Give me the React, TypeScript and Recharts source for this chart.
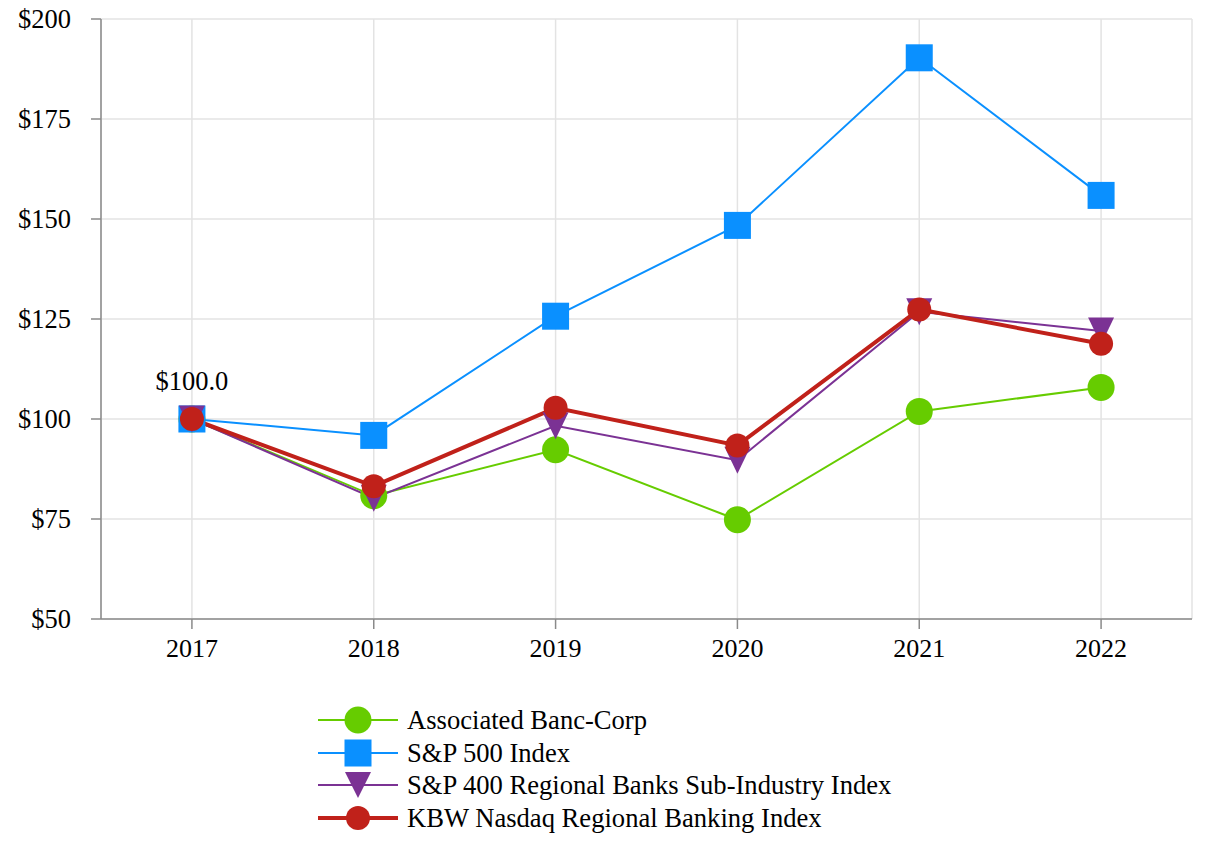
import React from 'react';
import { LineChart, Line, XAxis, YAxis, CartesianGrid, Legend } from 'recharts';

const years = ['2017', '2018', '2019', '2020', '2021', '2022'];
const associated = [100, 80.8, 92.3, 74.8, 101.9, 107.9];
const sp500 = [100, 95.9, 125.7, 148.4, 190.3, 155.9];
const sp400 = [100, 80.2, 98.3, 89.7, 126.8, 122.0];
const kbw = [100, 83.2, 102.8, 93.4, 127.4, 118.8];
const yTicks = [50, 75, 100, 125, 150, 175, 200];

const names = {
  associated: 'Associated Banc-Corp',
  sp500: 'S&P 500 Index',
  sp400: 'S&P 400 Regional Banks Sub-Industry Index',
  kbw: 'KBW Nasdaq Regional Banking Index',
};

const colors = {
  associated: '#66cc00',
  sp500: '#0a90ff',
  sp400: '#7b3294',
  kbw: '#c0211a',
};

const data = years.map((y, i) => ({
  year: y,
  associated: associated[i],
  sp500: sp500[i],
  sp400: sp400[i],
  kbw: kbw[i],
}));

const FONT = '"Liberation Serif", "Times New Roman", serif';

const circleDot = (color: string, r: number) => (p: any) => (
  <circle key={`c-${color}-${p.index}`} cx={p.cx} cy={p.cy} r={r} fill={color} />
);
const squareDot = (color: string, s: number) => (p: any) => (
  <rect key={`s-${p.index}`} x={p.cx - s / 2} y={p.cy - s / 2} width={s} height={s} fill={color} />
);
const triDot = (color: string, w: number, h: number) => (p: any) => (
  <path
    key={`t-${p.index}`}
    d={`M${p.cx - w / 2},${p.cy - h / 2} L${p.cx + w / 2},${p.cy - h / 2} L${p.cx},${p.cy + h / 2} Z`}
    fill={color}
  />
);

const legendItems = [
  { key: 'associated', shape: 'circle', r: 13.5, sw: 2 },
  { key: 'sp500', shape: 'square', r: 27, sw: 2 },
  { key: 'sp400', shape: 'tri', r: 26, sw: 2 },
  { key: 'kbw', shape: 'circle', r: 12, sw: 4 },
];

const LegendContent = () => (
  <div style={{ fontFamily: FONT, fontSize: 26.6, color: '#000', height: 132 }}>
    {legendItems.map((it) => {
      const c = (colors as any)[it.key];
      return (
        <div key={it.key} style={{ display: 'flex', alignItems: 'center', height: 32.5 }}>
          <svg width={89} height={32} style={{ display: 'block', overflow: 'visible' }}>
            <line x1={0} y1={16} x2={80} y2={16} stroke={c} strokeWidth={it.sw} />
            {it.shape === 'circle' && <circle cx={40} cy={16} r={it.r} fill={c} />}
            {it.shape === 'square' && <rect x={40 - it.r / 2} y={16 - it.r / 2} width={it.r} height={it.r} fill={c} />}
            {it.shape === 'tri' && <path d={`M${40 - 13},${16 - 13} L${40 + 13},${16 - 13} L40,${16 + 13} Z`} fill={c} />}
          </svg>
          <span style={{ lineHeight: '32px', whiteSpace: 'nowrap' }}>{(names as any)[it.key]}</span>
        </div>
      );
    })}
  </div>
);

const firstLabel = (p: any) =>
  p.index === 0 ? (
    <text key="lbl" x={p.x} y={p.y - 29} textAnchor="middle" fontFamily={FONT} fontSize={26.5} fill="#000">
      $100.0
    </text>
  ) : null;

export default function App() {
  return (
    <div style={{ position: 'absolute', left: 0, top: 0, width: 1212, height: 860, background: '#fff' }}>
      <LineChart width={1212} height={860} data={data} margin={{ top: 19, right: 20, left: 0, bottom: 49 }}>
        <CartesianGrid stroke="#e3e3e3" strokeWidth={1.5} />
        <XAxis
          dataKey="year"
          scale="band"
          height={60}
          tickSize={10}
          tickMargin={10}
          stroke="#8a8a8a"
          strokeWidth={1.5}
          tick={{ fill: '#000', fontSize: 26, fontFamily: FONT }}
        />
        <YAxis
          width={101}
          domain={[50, 200]}
          ticks={yTicks}
          interval={0}
          tickSize={10}
          tickMargin={20}
          stroke="#8a8a8a"
          strokeWidth={1.5}
          tickFormatter={(v: number) => `$${v}`}
          tick={{ fill: '#000', fontSize: 26.5, fontFamily: FONT }}
        />
        <Legend
          layout="vertical"
          verticalAlign="bottom"
          align="center"
          content={<LegendContent />}
          wrapperStyle={{ left: 318, top: 704, width: 700, height: 132 }}
        />
        <Line
          dataKey="associated"
          name={names.associated}
          stroke={colors.associated}
          strokeWidth={2}
          dot={circleDot(colors.associated, 13.5)}
          isAnimationActive={false}
        />
        <Line
          dataKey="sp500"
          name={names.sp500}
          stroke={colors.sp500}
          strokeWidth={2}
          dot={squareDot(colors.sp500, 27)}
          isAnimationActive={false}
        />
        <Line
          dataKey="sp400"
          name={names.sp400}
          stroke={colors.sp400}
          strokeWidth={2}
          dot={triDot(colors.sp400, 26, 27)}
          isAnimationActive={false}
        />
        <Line
          dataKey="kbw"
          name={names.kbw}
          stroke={colors.kbw}
          strokeWidth={4}
          dot={circleDot(colors.kbw, 12)}
          label={firstLabel}
          isAnimationActive={false}
        />
      </LineChart>
    </div>
  );
}
